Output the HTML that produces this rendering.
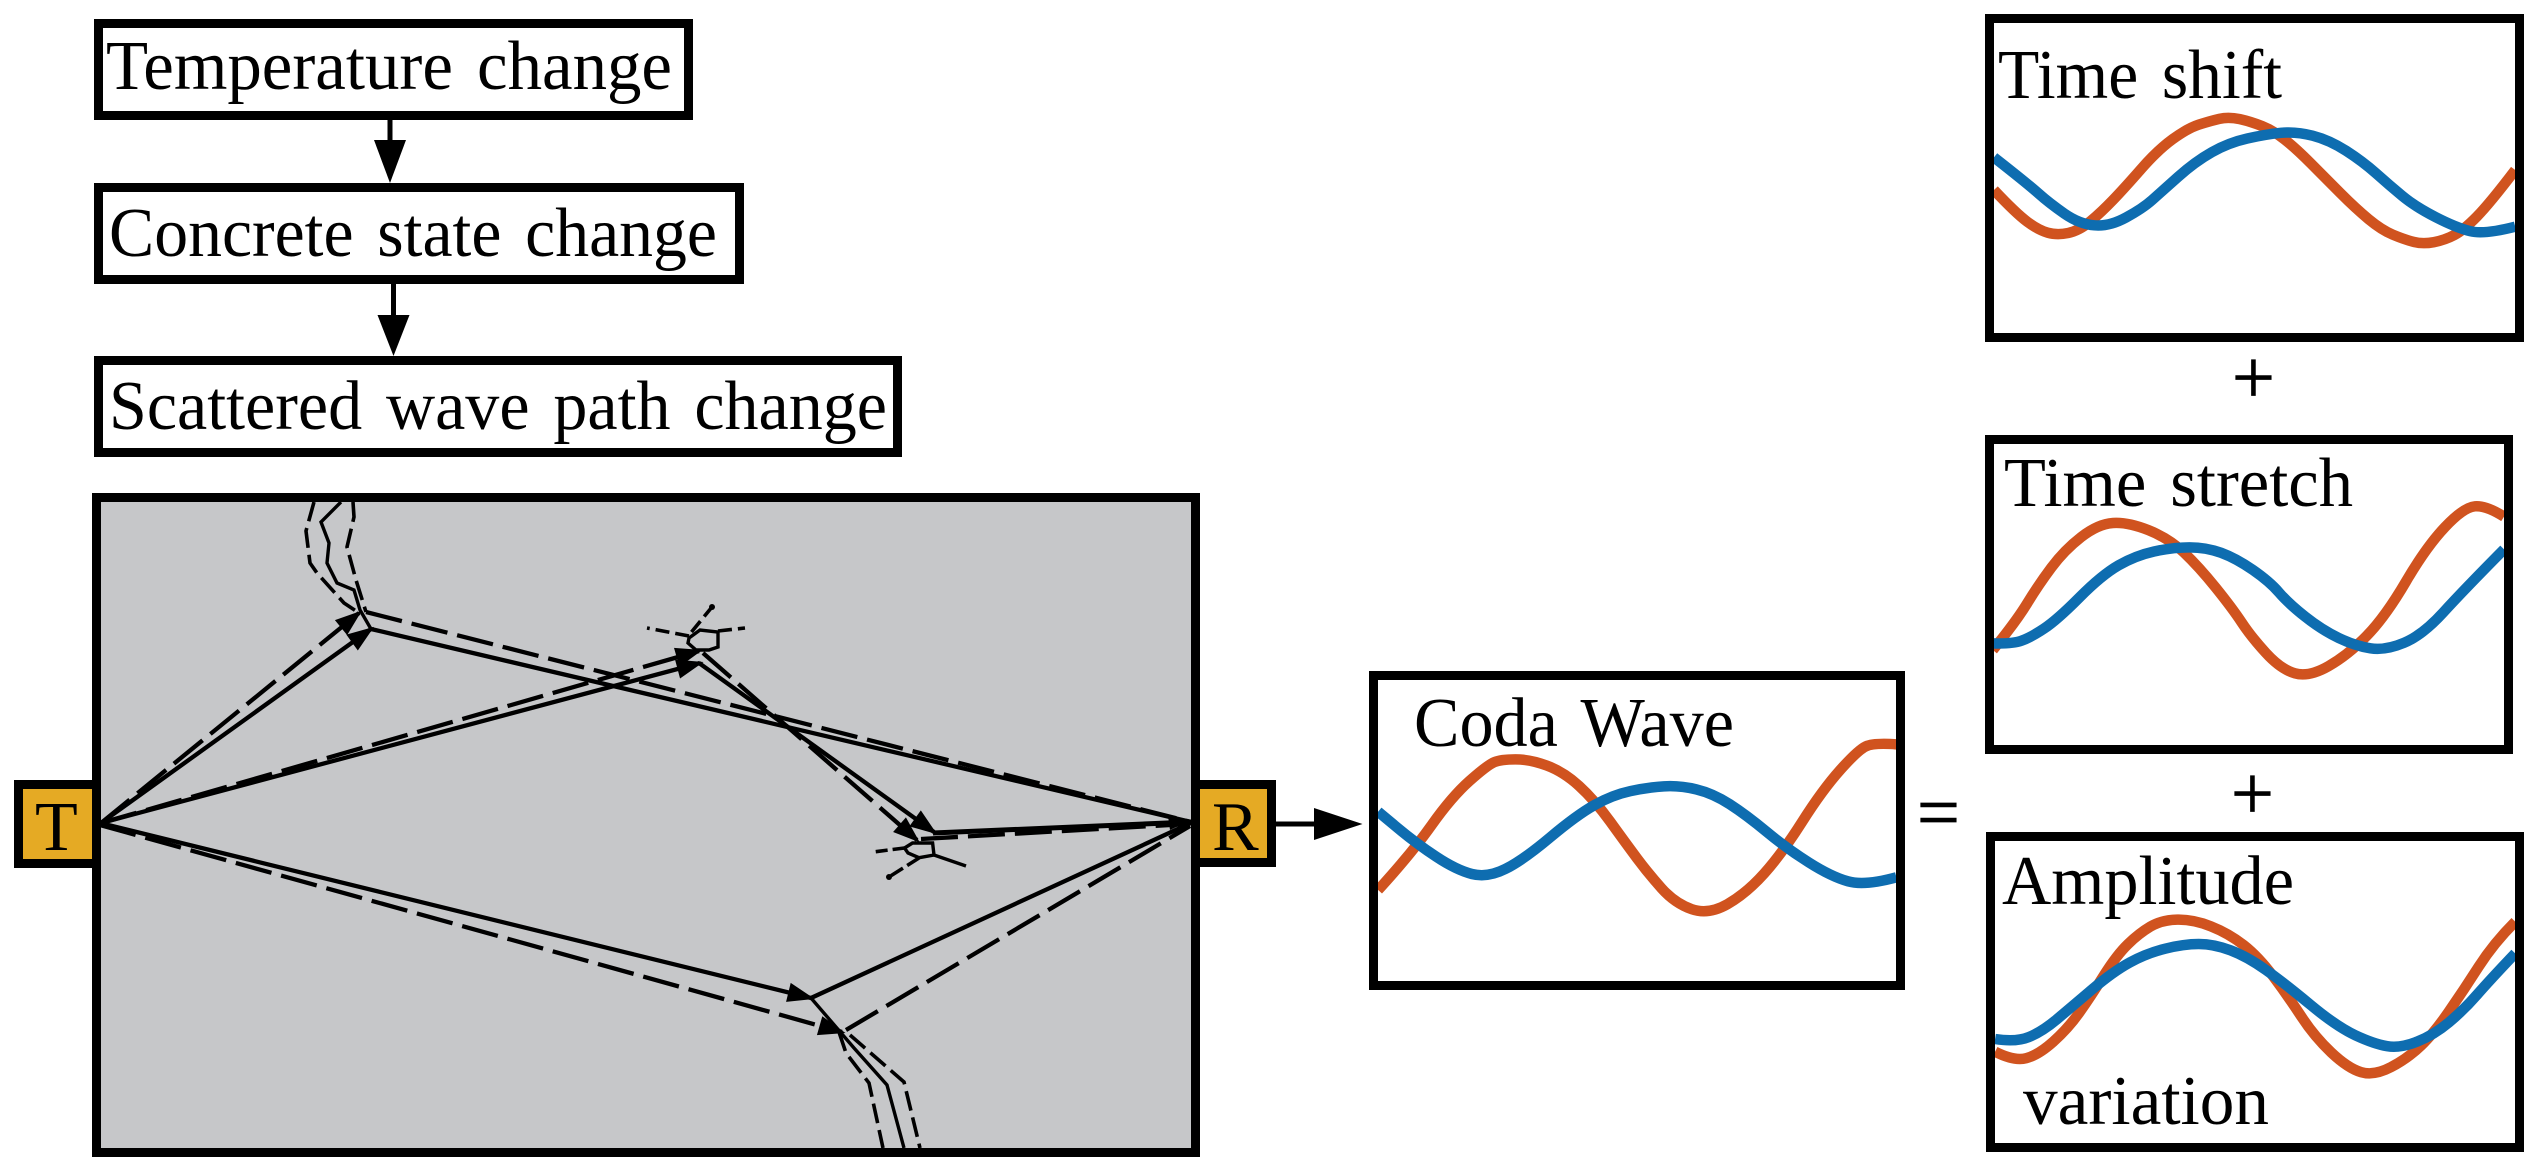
<!DOCTYPE html>
<html><head><meta charset="utf-8"><title>Coda wave diagram</title>
<style>
html,body{margin:0;padding:0;background:#fff}
svg{display:block}
text{font-family:"Liberation Serif",serif;font-size:70px;fill:#000;word-spacing:7px}
.op{font-size:76px;stroke:#000;stroke-width:.8}
.b{fill:#fff;stroke:#000;stroke-width:9}
.s{fill:none;stroke:#000;stroke-width:4.3;stroke-linejoin:round}
.d{fill:none;stroke:#000;stroke-width:4.3;stroke-dasharray:37 10}
.w{fill:none;stroke:#000;stroke-width:3.4}
.wd{fill:none;stroke:#000;stroke-width:3.6;stroke-dasharray:20 7}
.h{stroke:#000;stroke-width:2.5;stroke-linejoin:miter}
.or,.bl{fill:none;stroke-width:10.5;stroke-linejoin:round;vector-effect:non-scaling-stroke}
.or{stroke:#d0531f}.bl{stroke:#0e6db0}
</style></head><body>
<svg width="2545" height="1173" viewBox="0 0 2545 1173" xmlns="http://www.w3.org/2000/svg">
<rect width="2545" height="1173" fill="#fff"/>

<!-- flow boxes -->
<rect class="b" x="98.5" y="23.5" width="590" height="92"/>
<text x="106" y="89" textLength="566" lengthAdjust="spacingAndGlyphs">Temperature change</text>
<rect class="b" x="98.5" y="187.5" width="641" height="92"/>
<text x="109" y="256" textLength="608" lengthAdjust="spacingAndGlyphs">Concrete state change</text>
<rect class="b" x="98.5" y="360.5" width="799" height="92"/>
<text x="109" y="429" textLength="778" lengthAdjust="spacingAndGlyphs">Scattered wave path change</text>

<line x1="390" y1="120" x2="390" y2="145" stroke="#000" stroke-width="5"/>
<polygon points="374,140 406,140 390,183"/>
<line x1="393.5" y1="284" x2="393.5" y2="320" stroke="#000" stroke-width="5"/>
<polygon points="377.5,315 409.5,315 393.5,356"/>

<!-- panel -->
<rect x="96.5" y="497.5" width="1099" height="655" fill="#c6c7c9" stroke="#000" stroke-width="9"/>
<rect x="18.5" y="784.5" width="78" height="79" fill="#e5aa24" stroke="#000" stroke-width="9"/>
<rect x="1195.5" y="784.5" width="76" height="78" fill="#e5aa24" stroke="#000" stroke-width="9"/>
<text x="35" y="850">T</text>
<text x="1212" y="850">R</text>

<!-- rays -->
<polyline class="s" points="101,823 371,629 1191,822"/>
<polyline class="d" points="101,823 359,613"/>
<line class="d" x1="366" y1="612" x2="1191" y2="822"/>
<polyline class="s" points="101,823 700,663"/>
<line class="d" x1="101" y1="823" x2="699" y2="651"/>
<line class="s" x1="699" y1="663" x2="934" y2="832"/>
<line class="d" x1="703" y1="653" x2="917" y2="840"/>
<line class="s" x1="933" y1="833" x2="1191" y2="822" style="stroke-width:5"/>
<line class="d" x1="921" y1="839" x2="1188" y2="824"/>
<polyline class="s" points="100,823 811,998 1193,822"/>
<line class="d" x1="100" y1="825" x2="842" y2="1032"/>
<line class="d" x1="846" y1="1030" x2="1190" y2="826"/>

<!-- arrowheads -->
<polygon class="h" points="371,629 357.8,648.3 348.4,635.3"/>
<polygon class="h" points="359,613 347,633 337,620.7"/>
<polygon class="h" points="700,663 680.8,676.4 676.7,661"/>
<polygon class="h" points="699,651 680.1,664.7 675.7,649.3"/>
<polygon class="h" points="934,832 911.4,825.6 920.8,812.6"/>
<polygon class="h" points="917,840 895.2,831.5 905.7,819.5"/>
<polygon class="h" points="811,998 787.7,1000.5 791.5,984.9"/>
<polygon class="h" points="842,1032 818.6,1033.7 823,1018.3"/>
<polygon points="1191,820 1168,816 1170,830"/>

<!-- wave paths: top -->
<polyline class="wd" points="314,502 306,531 310,563 317,573 344,603 359,613"/>
<polyline class="w" points="341,502 321,522 329,543 327,563 337,583 354,590 360,610 371,629"/>
<polyline class="wd" points="353,502 354,517 347,547 356,580 366,612"/>
<!-- wave paths: bottom -->
<polyline class="wd" points="839,1032 846,1053 869,1083 883,1148"/>
<polyline class="w" points="811,998 854,1048 887,1085 904,1148"/>
<polyline class="wd" points="850,1035 904,1082 920,1148"/>

<!-- scatterer 1 -->
<polygon points="689,638 700,630 718,632 718,647 709,650 696,650 688,643" fill="none" stroke="#000" stroke-width="3.4"/>
<line class="wd" x1="689" y1="636" x2="647" y2="628" style="stroke-dasharray:14 6"/>
<line class="wd" x1="691.5" y1="632" x2="712" y2="607" style="stroke-dasharray:14 6"/>
<circle cx="712" cy="607" r="3"/>
<line class="wd" x1="718" y1="631" x2="745" y2="628" style="stroke-dasharray:14 6"/>
<!-- scatterer 2 -->
<polygon points="912.5,843 932.6,843 934,855 919,857.7 908,853 904.5,848" fill="none" stroke="#000" stroke-width="3.4"/>
<line class="wd" x1="904.5" y1="848" x2="873" y2="852" style="stroke-dasharray:12 5"/>
<line class="wd" x1="919" y1="858" x2="889" y2="877" style="stroke-dasharray:14 5"/>
<circle cx="889" cy="877" r="3"/>
<line class="w" x1="934" y1="855" x2="966" y2="866"/>

<!-- arrow to coda -->
<line x1="1276" y1="824" x2="1320" y2="824" stroke="#000" stroke-width="5"/>
<polygon points="1314,808 1362.5,824 1314,840"/>

<!-- Coda -->
<g transform="translate(1300,640) scale(.44643,.33333)">
<path class="or" d="M175,750 Q250,640 295,555 Q340,470 380,422.5 Q420,375 435,366.5 Q450,358 482.5,358 Q515,358 552.5,376.5 Q590,395 625,437.5 Q660,480 695,545 Q730,610 755,655 Q780,700 810,745 Q840,790 877.5,807.5 Q915,825 957.5,792.5 Q1000,760 1040,700 Q1080,640 1125,545 Q1170,450 1210,390 Q1250,330 1267.5,319 Q1285,308 1336,313"/>
<path class="bl" d="M175,515 L217.5,562.5 Q260,610 305,650 Q350,690 385,702 Q420,714 460,687 Q500,660 560,592.5 Q620,525 660,495 Q700,465 740,453.5 Q780,442 815,439 Q850,436 887.5,448 Q925,460 962.5,492.5 Q1000,525 1045,575 Q1090,625 1140,667.5 Q1190,710 1227.5,724 Q1265,738 1336,712"/>
</g>
<rect class="b" x="1373.5" y="675.5" width="527" height="310" style="fill:none"/>
<text x="1414" y="746" textLength="320" lengthAdjust="spacingAndGlyphs">Coda Wave</text>
<text class="op" x="1917" y="838">=</text>

<!-- Time shift -->
<g transform="translate(1960,0) scale(.37313,.33333)">
<path class="or" d="M91,570 Q150,640 180,665 Q210,690 235,698 Q260,706 290,699 Q320,692 350,663.5 Q380,635 410,600 Q440,565 485,507.5 Q530,450 570,417.5 Q610,385 640,374 Q670,363 695,356.5 Q720,350 750,357.5 Q780,365 810,378.5 Q840,392 870,418.5 Q900,445 940,490 Q980,535 1020,580 Q1060,625 1095,657.5 Q1130,690 1160,704 Q1190,718 1215,725.5 Q1240,733 1270,726.5 Q1300,720 1325,705 Q1350,690 1385,650 Q1420,610 1488,510"/>
<path class="bl" d="M91,472 Q180,550 210,580 Q240,610 280,641 Q320,672 360,676 Q400,680 445,652.5 Q490,625 515,600 Q540,575 585,530 Q630,485 675,456.5 Q720,428 770,415.5 Q820,403 860,398.5 Q900,394 945,407 Q990,420 1035,452.5 Q1080,485 1115,520 Q1150,555 1185,587.5 Q1220,620 1275,651.5 Q1330,683 1367.5,693.5 Q1405,704 1488,680"/>
</g>
<rect class="b" x="1989.5" y="18.5" width="530" height="319" style="fill:none"/>
<text x="1998" y="98" textLength="284" lengthAdjust="spacingAndGlyphs">Time shift</text>
<text class="op" x="2232" y="403">+</text>

<!-- Time stretch -->
<g transform="translate(1960,400) scale(.37313,.33333)">
<path class="or" d="M88,750 Q150,665 180,610 Q210,555 245,502.5 Q280,450 325,411 Q370,372 410,369 Q450,366 505,390.5 Q560,415 600,457.5 Q640,500 685,562.5 Q730,625 755,667.5 Q780,710 820,759 Q860,808 897.5,820 Q935,832 987.5,798.5 Q1040,765 1090,707.5 Q1140,650 1195,545 Q1250,440 1300,381 Q1350,322 1380,319 Q1410,316 1458,350"/>
<path class="bl" d="M88,730 Q140,732 165,722 Q190,712 225,686 Q260,660 320,592.5 Q380,525 425,496 Q470,467 520,454.5 Q570,442 615,442 Q660,442 700,458.5 Q740,475 785,510 Q830,545 855,577.5 Q880,610 925,650 Q970,690 1015,714 Q1060,738 1100,745 Q1140,752 1190,728.5 Q1240,705 1295,637.5 Q1350,570 1458,448"/>
</g>
<rect class="b" x="1989.5" y="439.5" width="519" height="310" style="fill:none"/>
<text x="2004" y="506" textLength="349" lengthAdjust="spacingAndGlyphs">Time stretch</text>
<text class="op" x="2231" y="819">+</text>

<!-- Amplitude -->
<g transform="translate(1960,780) scale(.37313,.33333)">
<path class="or" d="M94,815 Q145,844 177.5,834.5 Q210,825 250,785 Q290,745 320,697.5 Q350,650 385,587.5 Q420,525 450,492.5 Q480,460 510,440 Q540,420 582.5,419 Q625,418 672.5,439 Q720,460 760,495 Q800,530 840,590 Q880,650 915,710 Q950,770 995,817.5 Q1040,865 1075,876.5 Q1110,888 1155,861.5 Q1200,835 1235,797.5 Q1270,760 1310,695 Q1350,630 1390,560 Q1430,490 1488,425"/>
<path class="bl" d="M94,777 Q150,787 185,771 Q220,755 260,717.5 Q300,680 355,627.5 Q410,575 455,547.5 Q500,520 550,506 Q600,492 640,492 Q680,492 725,511 Q770,530 820,570 Q870,610 940,675 Q1010,740 1060,766 Q1110,792 1145,798.5 Q1180,805 1225,785 Q1270,765 1310,727.5 Q1350,690 1385,645 Q1420,600 1488,520"/>
</g>
<rect class="b" x="1990.5" y="836.5" width="529" height="311" style="fill:none"/>
<text x="2002" y="904" textLength="292" lengthAdjust="spacingAndGlyphs">Amplitude</text>
<text x="2023" y="1124" textLength="246" lengthAdjust="spacingAndGlyphs">variation</text>
</svg>
</body></html>
